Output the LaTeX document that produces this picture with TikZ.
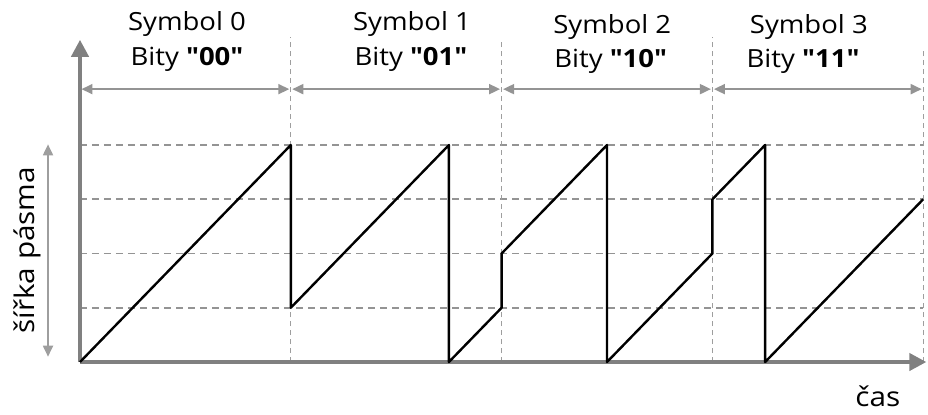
\documentclass[tikz,border=0pt]{standalone}
\usepackage{fontspec}
\setmainfont{Open Sans}[FakeStretch=1.1, Ligatures=TeXOff]
\usetikzlibrary{arrows.meta}
\definecolor{gris}{gray}{0.5}
\definecolor{grisclair}{gray}{0.58}
\definecolor{grispale}{gray}{0.62}

\begin{document}
\begin{tikzpicture}[x=52.7pt,y=54.25pt]
  \tikzstyle{axe}=[draw=gris, line width=4pt, -{Triangle[length=17pt,width=17pt]}];
  \tikzstyle{grille}=[draw=grisclair, line width=1.8pt, dash pattern=on 7pt off 5pt];
  \tikzstyle{separ}=[draw=grispale, line width=1pt, dash pattern=on 5pt off 4pt];
  \tikzstyle{duree}=[draw=grisclair, line width=1.8pt, shorten <=1.5pt, shorten >=1.5pt,
    {Triangle[length=11pt,width=10pt]}-{Triangle[length=11pt,width=10pt]}];
  \tikzstyle{signal}=[draw=black, line width=2.4pt, line join=round];
  \tikzstyle{etiq}=[inner sep=0, font=\fontsize{25}{30}\selectfont];
  \tikzstyle{axetiq}=[inner sep=0, font=\fontsize{27}{32}\selectfont];

  \useasboundingbox (-1.518,-0.959) rectangle (16.091,6.673);

  \coordinate (O) at (0,0);
  \coordinate (Y) at (0,5.94);
  \coordinate (X) at (16.06,0);
  \coordinate (L0) at (-0.607,0.07);
  \coordinate (L1) at (-0.607,4.04);

  \coordinate (T0) at (0,5.03);
  \coordinate (T1) at (4,5.03);
  \coordinate (T2) at (8,5.03);
  \coordinate (T3) at (12,5.03);
  \coordinate (T4) at (16,5.03);

  \coordinate (B1) at (4,0);
  \coordinate (B2) at (8,0);
  \coordinate (B3) at (12,0);
  \coordinate (B4) at (16,0);
  \coordinate (H1) at (4,6.0);
  \coordinate (H2) at (8,5.9);
  \coordinate (H3) at (12,6.0);
  \coordinate (H4) at (16,5.8);

  \draw[grille] (0,1) -- (16,1);
  \draw[grille] (0,2) -- (16,2);
  \draw[grille] (0,3) -- (16,3);
  \draw[grille] (0,4) -- (16,4);

  \draw[separ] (B1) -- (H1);
  \draw[separ] (B2) -- (H2);
  \draw[separ] (B3) -- (H3);
  \draw[separ] (B4) -- (H4);

  \draw[axe] (O) -- (Y);
  \draw[axe] (O) -- (X);
  \draw[duree, draw=grispale] (L0) -- (L1);

  \draw[duree] (T0) -- (T1);
  \draw[duree] (T1) -- (T2);
  \draw[duree] (T2) -- (T3);
  \draw[duree] (T3) -- (T4);

  \draw[signal] (0,0) -- (4,4) -- (4,1) -- (7,4) -- (7,0) -- (8,1) -- (8,2) -- (10,4)
    -- (10,0) -- (12,2) -- (12,3) -- (13,4) -- (13,0) -- (16,3);

  \node[etiq] (s0) at (2.03,6.23) {Symbol 0};
  \node[etiq] (s1) at (6.3,6.23) {Symbol 1};
  \node[etiq] (s2) at (10.1,6.18) {Symbol 2};
  \node[etiq] (s3) at (13.83,6.18) {Symbol 3};
  \node[etiq] (b0) at (2.03,5.58) {Bity \textbf{"00"}};
  \node[etiq] (b1) at (6.28,5.58) {Bity \textbf{"01"}};
  \node[etiq] (b2) at (10.07,5.55) {Bity \textbf{"10"}};
  \node[etiq] (b3) at (13.72,5.55) {Bity \textbf{"11"}};

  \node[axetiq, rotate=90] (sirka) at (-1.0,2.06) {šířka pásma};
  \node[axetiq] (cas) at (15.14,-0.64) {čas};
\end{tikzpicture}
\end{document}
